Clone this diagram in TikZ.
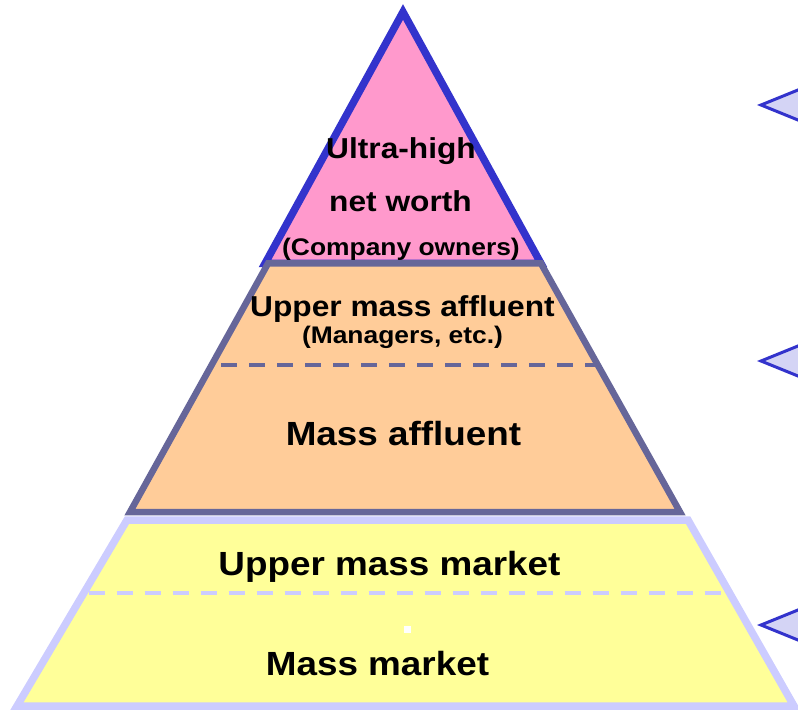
\documentclass[tikz,border=0pt]{standalone}
\usepackage{fontspec}
\newfontfamily\labfont[FakeStretch=1.1]{Liberation Sans}
\definecolor{pinkfill}{HTML}{FF99CC}
\definecolor{topline}{HTML}{3333CC}
\definecolor{peachfill}{HTML}{FFCC99}
\definecolor{midline}{HTML}{666699}
\definecolor{yellowfill}{HTML}{FFFF99}
\definecolor{lowline}{HTML}{CCCCFF}
\definecolor{calloutfill}{HTML}{D4D4F5}
\tikzset{
  biglab/.style={anchor=base, inner sep=0pt, font=\labfont\bfseries\fontsize{33.5}{40}\selectfont},
  midlab/.style={anchor=base, inner sep=0pt, font=\labfont\bfseries\fontsize{28.8}{34}\selectfont},
  smalllab/.style={anchor=base, inner sep=0pt, font=\labfont\bfseries\fontsize{24}{29}\selectfont},
  layerdash/.style={line width=4pt, dash pattern=on 16pt off 12pt},
  callout/.style={draw=topline, fill=calloutfill, line width=3pt, line join=miter}
}
\begin{document}
\begin{tikzpicture}[x=1pt,y=-1pt]
\useasboundingbox (0,0) rectangle (798,711);
\clip (0,0) rectangle (798,711);
% bottom layer
\draw[fill=yellowfill, draw=lowline, line width=7.5pt] (127,520) -- (688,520) -- (794,706) -- (17,706) -- cycle;
\draw[layerdash, draw=lowline] (88.5,593) -- (727,593);
% top triangle
\draw[fill=pinkfill, draw=topline, line width=7.5pt] (403,12) -- (541,263.5) -- (265,263.5) -- cycle;
% middle layer
\draw[fill=peachfill, draw=midline, line width=6.5pt] (268,263.5) -- (541,263.5) -- (680,512) -- (130,512) -- cycle;
\draw[layerdash, draw=midline] (221,365) -- (597,365);
% white mark
\fill[white] (404,626) rectangle (411,633);
% callout pointers
\draw[callout] (830,77) -- (761,105) -- (830,133);
\draw[callout] (830,333) -- (761,361) -- (830,389);
\draw[callout] (830,597) -- (761,625) -- (830,653);
% labels
\node[midlab] (uhnw1) at (401,159) {Ultra-high};
\node[midlab] (uhnw2) at (400.5,212) {net worth};
\node[smalllab] (uhnw3) at (401,256) {(Company owners)};
\node[midlab] (uma1) at (402.5,317) {Upper mass affluent};
\node[smalllab] (uma2) at (402.5,344) {(Managers, etc.)};
\node[biglab] (ma) at (403.5,445) {Mass affluent};
\node[biglab] (umm) at (389.5,575) {Upper mass market};
\node[biglab] (mm) at (377.5,675) {Mass market};
\end{tikzpicture}
\end{document}
